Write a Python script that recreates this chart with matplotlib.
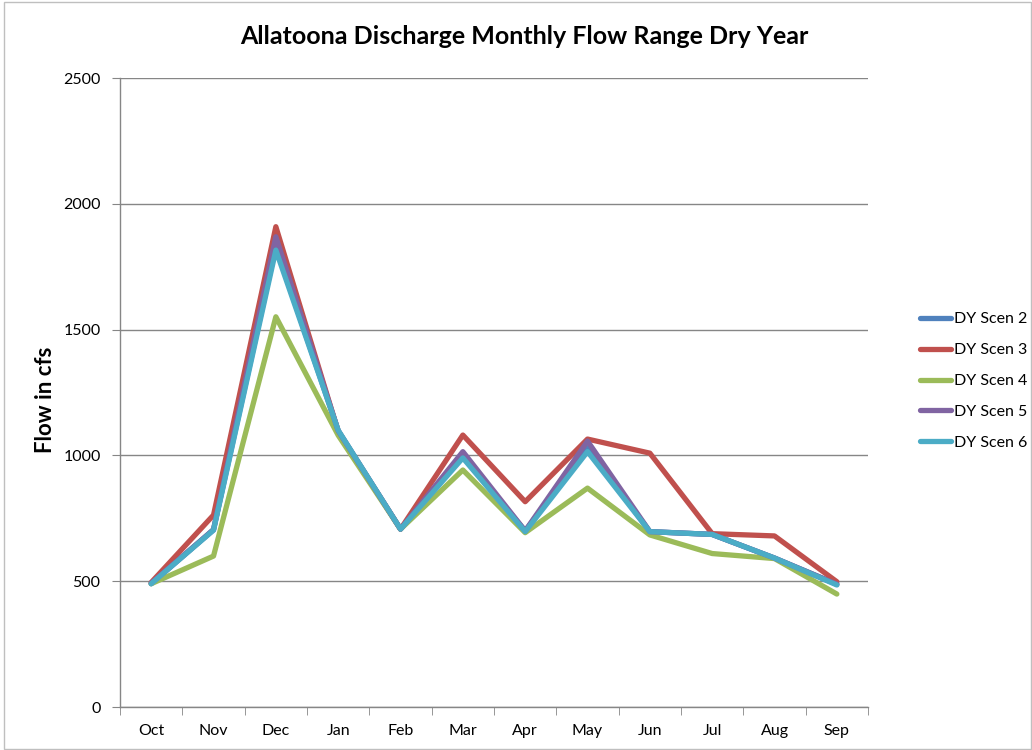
import matplotlib
matplotlib.use("Agg")
import matplotlib.pyplot as plt
from matplotlib.patches import Rectangle

plt.rcParams['font.family'] = ['Lato', 'DejaVu Sans']

months = ["Oct", "Nov", "Dec", "Jan", "Feb", "Mar", "Apr", "May", "Jun", "Jul", "Aug", "Sep"]
scen2 = [490, 705, 1830, 1098, 707, 1000, 700, 1030, 697, 686, 592, 488]
scen3 = [495, 763, 1909, 1095, 707, 1081, 816, 1065, 1009, 689, 680, 498]
scen4 = [490, 600, 1551, 1080, 707, 942, 693, 870, 684, 610, 590, 449]
scen5 = [492, 705, 1869, 1098, 707, 1015, 700, 1057, 697, 686, 592, 488]
scen6 = [490, 703, 1816, 1100, 707, 990, 697, 1015, 697, 686, 592, 485]

series = [
    ("DY Scen 2", scen2, "#4F81BD"),
    ("DY Scen 3", scen3, "#C0504D"),
    ("DY Scen 4", scen4, "#9BBB59"),
    ("DY Scen 5", scen5, "#8064A2"),
    ("DY Scen 6", scen6, "#4BACC6"),
]

fig = plt.figure(figsize=(10.32, 7.5), dpi=100)
ax = fig.add_axes([0.1163, 0.0573, 0.7248, 0.8387])

x = list(range(len(months)))
for name, vals, col in series:
    ax.plot(x, vals, color=col, lw=3.8, label=name, solid_joinstyle="round",
            solid_capstyle="round")

ax.set_xlim(-0.5, len(months) - 0.5)
ax.set_ylim(0, 2500)
ax.set_yticks([0, 500, 1000, 1500, 2000, 2500])
ax.set_xticks(x)
ax.set_xticklabels(months)
ax.set_xticks([i - 0.5 for i in range(len(months) + 1)], minor=True)
ax.tick_params(axis="x", which="major", length=0, pad=12, labelsize=11.5)
ax.tick_params(axis="x", which="minor", length=6, color="#868686", direction="out")
ax.tick_params(axis="y", length=6, color="#868686", direction="out", pad=8, labelsize=11.5)

ax.grid(axis="y", color="#868686", lw=1)
ax.set_axisbelow(True)
for s in ["top", "right"]:
    ax.spines[s].set_visible(False)
for s in ["left", "bottom"]:
    ax.spines[s].set_color("#868686")
    ax.spines[s].set_linewidth(1)

ax.set_ylabel("Flow in cfs", fontsize=16, fontweight="bold")
ax.yaxis.set_label_coords(-0.086, 0.488)
fig.text(0.508, 0.951, "Allatoona Discharge Monthly Flow Range Dry Year",
         ha="center", va="center", fontsize=18, fontweight="bold")

leg = fig.legend(loc="center left", bbox_to_anchor=(0.891, 0.492), frameon=False,
                 fontsize=11.5, handlelength=2.0, handletextpad=0.15, labelspacing=1.05,
                 borderpad=0, borderaxespad=0)

fig.patches.append(Rectangle((0.004, 0.001), 0.995, 0.997, transform=fig.transFigure,
                             fill=False, edgecolor="#BFBFBF", lw=1))

fig.savefig("out.png", dpi=100)
